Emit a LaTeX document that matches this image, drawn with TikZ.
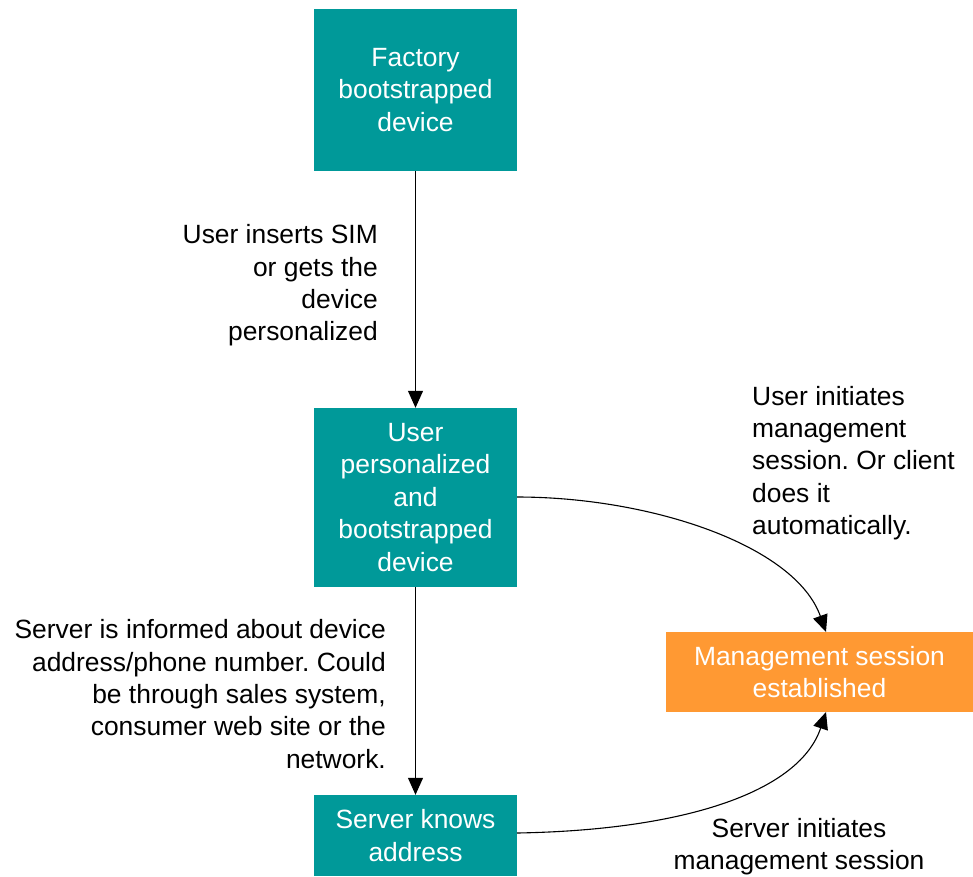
\documentclass[tikz,border=0pt]{standalone}
\usepackage{fontspec}
\setmainfont{Liberation Sans}
\usetikzlibrary{arrows.meta}
\definecolor{teal1}{RGB}{0,153,153}
\definecolor{orange1}{RGB}{255,153,51}
\frenchspacing
\begin{document}
\begin{tikzpicture}[x=1pt,y=-1pt,
  box/.style={fill=teal1,text=white,inner sep=0pt,align=center,font=\fontsize{26.4}{32.5}\selectfont},
  obox/.style={fill=orange1,text=white,inner sep=0pt,align=center,font=\fontsize{26.4}{32}\selectfont},
  lbl/.style={inner sep=0pt,font=\fontsize{26.4}{32.3}\selectfont},
  conn/.style={line width=1.1pt,-{Triangle[length=17pt,width=15pt]}}]
\useasboundingbox (0,0) rectangle (973,876);
\node[box,minimum width=203pt,minimum height=162pt] (fac) at (415.5,90) {Factory\\bootstrapped\\device};
\node[box,minimum width=203pt,minimum height=179pt] (usr) at (415.5,497.5) {User\\personalized\\and\\bootstrapped\\device};
\node[box,minimum width=203pt,minimum height=81pt] (srv) at (415.5,835.5) {Server knows\\address};
\node[obox,minimum width=307pt,minimum height=80pt] (mgmt) at (819.5,672) {Management session\\established};
\draw[conn] (fac.south) -- (usr.north);
\draw[conn] (usr.south) -- (srv.north);
\coordinate (m1) at (826,632);
\coordinate (m2) at (826,712);
\draw[conn] (517,497) .. controls (650,497) and (795,545) .. (m1);
\draw[conn] (517,833) .. controls (690,830) and (800,790) .. (m2);
\node[lbl,anchor=east,align=right] (l1) at (378,285.5) {User inserts SIM\\or gets the\\device\\personalized};
\node[lbl,anchor=west,align=left] (l2) at (752,463) {User initiates\\management\\session. Or client\\does it\\automatically.};
\node[lbl,anchor=east,align=right] (l3) at (386,694) {Server is informed about device\\address/phone number. Could\\be through sales system,\\consumer web site or the\\network.};
\node[lbl,align=center] (l4) at (799,846.5) {Server initiates\\management session};
\end{tikzpicture}
\end{document}
